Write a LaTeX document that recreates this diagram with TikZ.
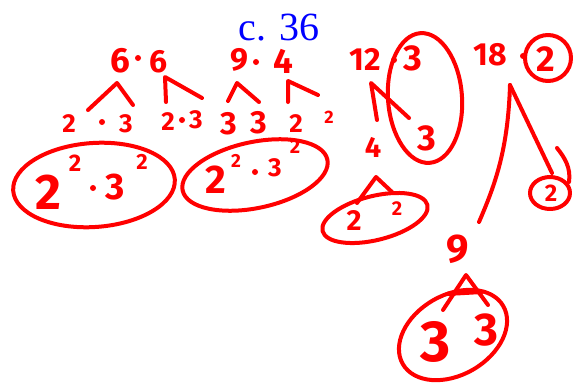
\documentclass[tikz,border=0pt]{standalone}
\usepackage{fontspec}
\newfontfamily\hw{Fira Sans}
\newfontfamily\tms{Liberation Serif}
\definecolor{ink}{RGB}{255,0,0}
\definecolor{pen}{RGB}{0,0,255}
\newcommand{\fs}[1]{\fontsize{#1}{#1}\selectfont}
\tikzset{
  hw/.style={draw=ink, line width=4pt, line cap=round, line join=round},
  dig/.style={text=ink, inner sep=0pt, font=\hw\bfseries},
  dotmark/.style={fill=ink, draw=none},
}
\begin{document}
\begin{tikzpicture}[x=1pt,y=-1pt]
\useasboundingbox (0,0) rectangle (573,383);
% title
\node[text=pen, inner sep=0pt, font=\tms\fs{40}, anchor=base] (title) at (279,40) {c. 36};

% ---------- 6 . 6 ----------
\node[dig, font=\hw\bfseries\fs{35}] (sixa) at (120,61) {6};
\fill[dotmark] (138,58) circle (3);
\node[dig, font=\hw\bfseries\fs{32}] (sixb) at (159,62) {6};
\draw[hw] (88,110) -- (117,83) -- (133,105);
\draw[hw] (166,102) -- (165,77) -- (202,98);
\node[dig, font=\hw\bfseries\fs{26}] (t1) at (69,124) {2};
\fill[dotmark] (102,122) circle (3);
\node[dig, font=\hw\bfseries\fs{26}] (t2) at (126,124) {3};
\node[dig, font=\hw\bfseries\fs{26}] (t3) at (168,122) {2};
\fill[dotmark] (182,120) circle (3);
\node[dig, font=\hw\bfseries\fs{26}] (t4) at (196,120) {3};
\draw[hw] (94,185) circle [x radius=81pt, y radius=42pt, rotate=4];
\node[dig, font=\hw\bfseries\fs{50}] (e1a) at (48,192) {2};
\node[dig, font=\hw\bfseries\fs{24}] (e1b) at (75,163) {2};
\fill[dotmark] (93,188) circle (3);
\node[dig, font=\hw\bfseries\fs{37}] (e1c) at (115,187) {3};
\node[dig, font=\hw\bfseries\fs{22}] (e1d) at (142,162) {2};

% ---------- 9 . 4 ----------
\node[dig, font=\hw\bfseries\fs{32}] (nine) at (239,60) {9};
\fill[dotmark] (256,62) circle (3);
\node[dig, font=\hw\bfseries\fs{35}] (four) at (283,61) {4};
\draw[hw] (228,101) -- (237,83) -- (259,102);
\draw[hw] (288,102) -- (288,81) -- (318,95);
\node[dig, font=\hw\bfseries\fs{32}] (u1) at (229,124) {3};
\node[dig, font=\hw\bfseries\fs{32}] (u2) at (259,123) {3};
\node[dig, font=\hw\bfseries\fs{26}] (u3) at (296,124) {2};
\node[dig, font=\hw\bfseries\fs{18}] (u4) at (329,117) {2};
\draw[hw] (255,175) circle [x radius=74pt, y radius=33pt, rotate=12];
\node[dig, font=\hw\bfseries\fs{40}] (e2a) at (216,180) {2};
\node[dig, font=\hw\bfseries\fs{19}] (e2b) at (236,161) {2};
\fill[dotmark] (255,172) circle (3);
\node[dig, font=\hw\bfseries\fs{26}] (e2c) at (275,168) {3};
\node[dig, font=\hw\bfseries\fs{20}] (e2d) at (295,147) {2};

% ---------- 12 . 3 ----------
\node[dig, font=\hw\bfseries\fs{32}] (twelve) at (365,59) {12};
\fill[dotmark] (394,60) circle (3);
\node[dig, font=\hw\bfseries\fs{36}] (three) at (413,58) {3};
\draw[hw] (425,98) circle [x radius=37pt, y radius=65pt, rotate=4];
\draw[hw] (377,120) -- (371,83) -- (409,118);
\node[dig, font=\hw\bfseries\fs{29}] (v1) at (373,147) {4};
\node[dig, font=\hw\bfseries\fs{36}] (v2) at (427,138) {3};
\draw[hw] (357,203) -- (376,177) -- (392,192);
\draw[hw] (375,218) circle [x radius=54pt, y radius=22pt, rotate=14];
\node[dig, font=\hw\bfseries\fs{29}] (w1) at (354,220) {2};
\node[dig, font=\hw\bfseries\fs{20}] (w2) at (397,209) {2};

% ---------- 18 . 2 ----------
\node[dig, font=\hw\bfseries\fs{32}] (eighteen) at (490,55) {18};
\fill[dotmark] (523,56) circle (3);
\node[dig, font=\hw\bfseries\fs{36}] (two) at (546,59) {2};
\draw[hw] (548,58) circle [radius=23pt];
\draw[hw] (510,85) .. controls (508,150) and (495,185) .. (479,222);
\draw[hw] (510,85) -- (552,173);
\draw[hw] (550,193) circle [x radius=20pt, y radius=16pt];
\draw[hw] (557,148) .. controls (565,158) and (571,168) .. (569,182);
\node[dig, font=\hw\bfseries\fs{24}] (x1) at (551,193) {2};
\node[dig, font=\hw\bfseries\fs{40}] (nineb) at (458,249) {9};
\draw[hw] (443,310) -- (466,275) -- (488,305);
\draw[hw] (447,294) -- (482,292);
\draw[hw] (453,335) circle [x radius=58pt, y radius=40pt, rotate=30];
\node[dig, font=\hw\bfseries\fs{58}] (y1) at (436,342) {3};
\node[dig, font=\hw\bfseries\fs{46}] (y2) at (486,330) {3};
\end{tikzpicture}
\end{document}
